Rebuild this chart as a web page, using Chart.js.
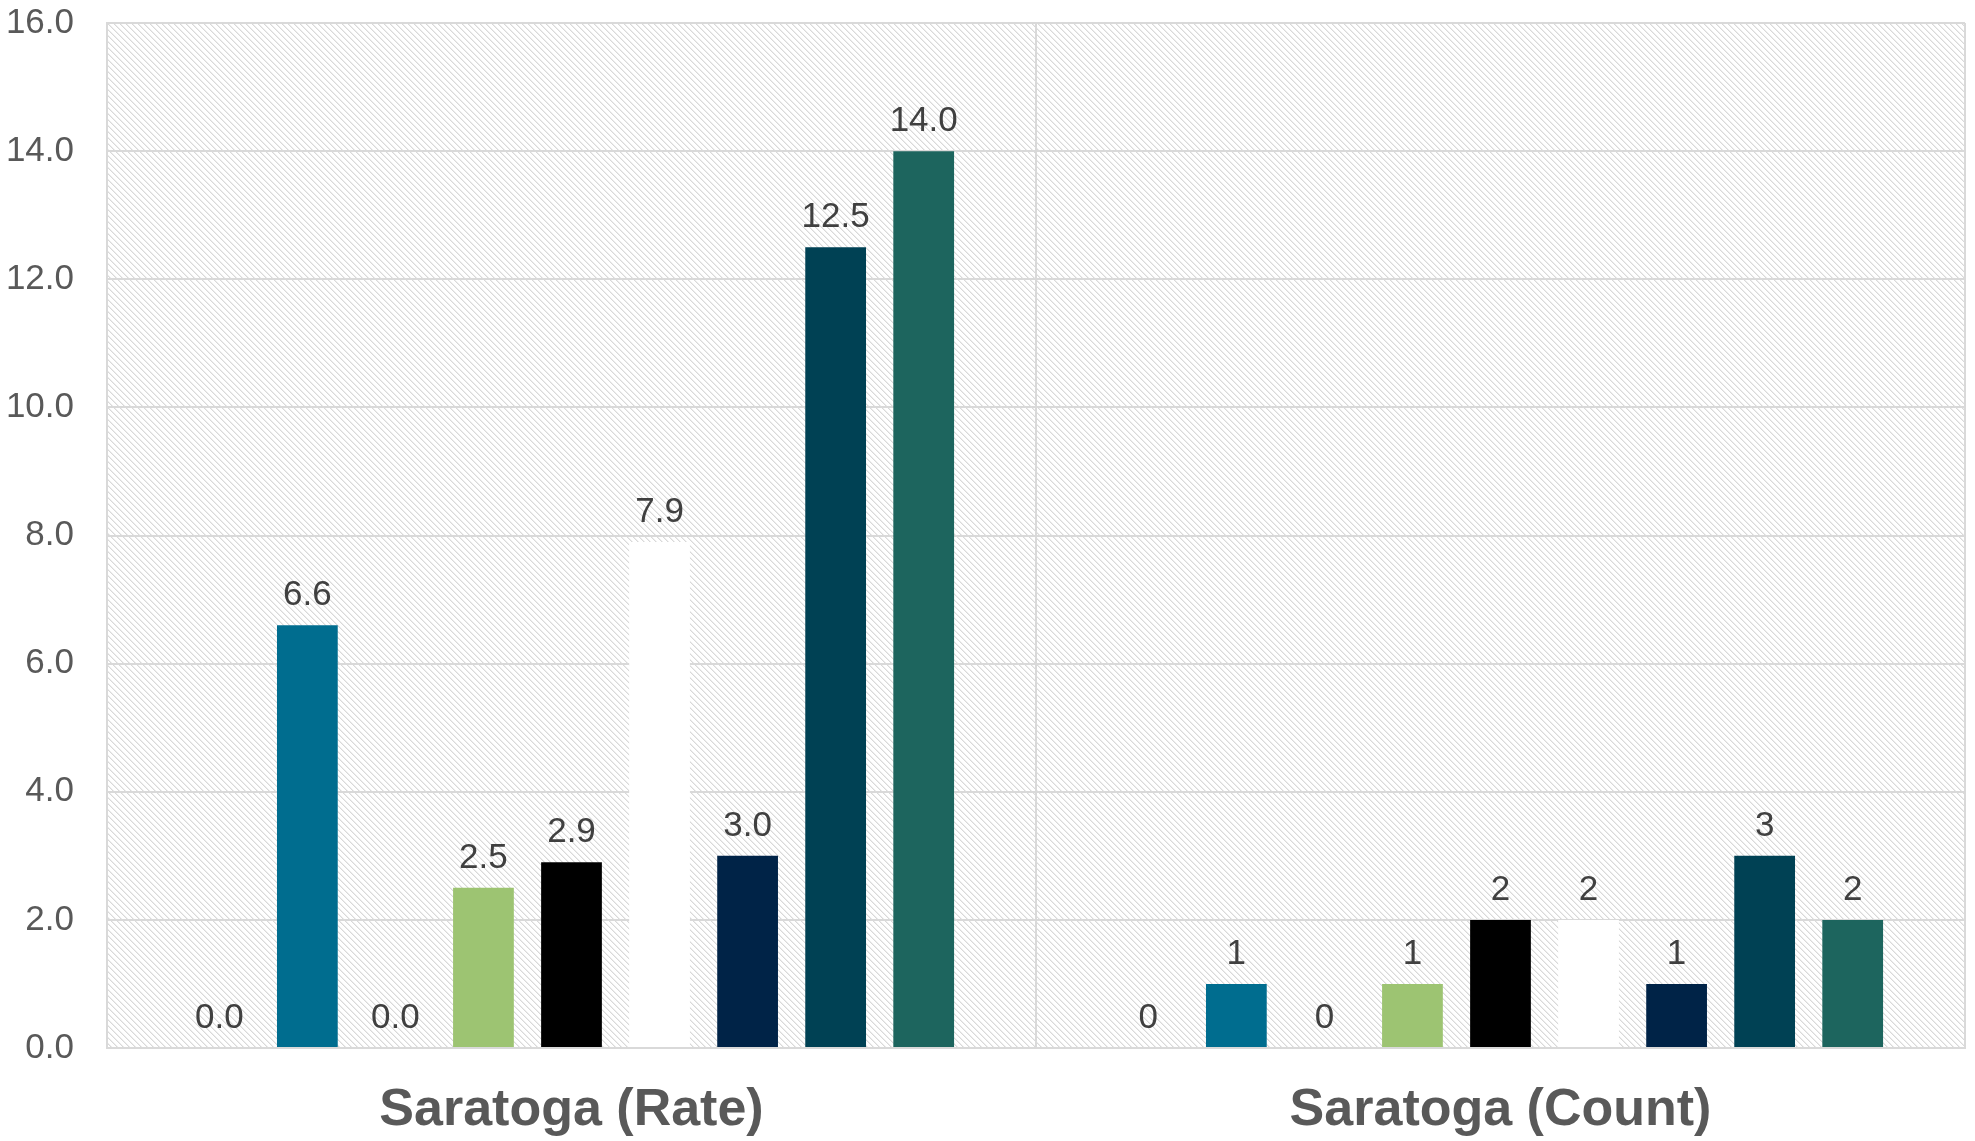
<!DOCTYPE html>
<html>
<head>
<meta charset="utf-8">
<script src="https://cdn.jsdelivr.net/npm/chart.js@4/dist/chart.umd.min.js"></script>
<style>
  html, body { margin: 0; padding: 0; background: #ffffff; }
  #wrap { width: 1975px; height: 1141px; }
</style>
</head>
<body>
<div id="wrap"><canvas id="saratogaChart"></canvas></div>
<script>
// categories on the x axis
var categories = ["Saratoga (Rate)", "Saratoga (Count)"];

// one value per category for each series (rate, count)
var series1 = [0.0, 0];
var series2 = [6.6, 1];
var series3 = [0.0, 0];
var series4 = [2.5, 1];
var series5 = [2.9, 2];
var series6 = [7.9, 2];
var series7 = [3.0, 1];
var series8 = [12.5, 3];
var series9 = [14.0, 2];

// y axis ticks
var yTicks = [0, 2, 4, 6, 8, 10, 12, 14, 16];

var seriesList = [series1, series2, series3, series4, series5, series6, series7, series8, series9];
var seriesNames = ["Series 1", "Series 2", "Series 3", "Series 4", "Series 5", "Series 6", "Series 7", "Series 8", "Series 9"];
var seriesColors = ["#7f7f7f", "#006d8f", "#4d4d4d", "#9dc472", "#000000", "#ffffff", "#002347", "#004154", "#1d655e"];

// diagonal hatch for the plot background
function makeHatch() {
  var n = 6;
  var c = document.createElement("canvas");
  c.width = n;
  c.height = n;
  var g = c.getContext("2d");
  g.fillStyle = "#ffffff";
  g.fillRect(0, 0, n, n);
  for (var i = 0; i < n; i++) {
    g.fillStyle = "#d9d9d9";
    g.fillRect(i, i, 1, 1);
    g.fillStyle = "#ededed";
    g.fillRect((i + 1) % n, i, 1, 1);
  }
  return g.createPattern(c, "repeat");
}

var hatchBackground = {
  id: "hatchBackground",
  beforeDraw: function (chart) {
    var ctx = chart.ctx;
    var a = chart.chartArea;
    ctx.save();
    ctx.fillStyle = makeHatch();
    ctx.fillRect(a.left, a.top, a.right - a.left, a.bottom - a.top);
    ctx.restore();
  },
};

// value labels above each bar
var valueLabels = {
  id: "valueLabels",
  afterDatasetsDraw: function (chart) {
    var ctx = chart.ctx;
    ctx.save();
    ctx.font = "35px 'Liberation Sans', Arial, sans-serif";
    ctx.fillStyle = "#404040";
    ctx.textAlign = "center";
    ctx.textBaseline = "alphabetic";
    chart.data.datasets.forEach(function (ds, di) {
      var meta = chart.getDatasetMeta(di);
      meta.data.forEach(function (bar, i) {
        var v = ds.data[i];
        var txt = i === 0 ? v.toFixed(1) : String(Math.round(v));
        ctx.fillText(txt, bar.x, bar.y - 20);
      });
    });
    ctx.restore();
  },
};

var datasets = seriesList.map(function (vals, i) {
  return {
    label: seriesNames[i],
    data: vals,
    backgroundColor: seriesColors[i],
    borderWidth: 0,
    categoryPercentage: 0.853,
    barPercentage: 0.69,
  };
});

new Chart(document.getElementById("saratogaChart"), {
  type: "bar",
  data: {
    labels: categories,
    datasets: datasets,
  },
  plugins: [hatchBackground, valueLabels],
  options: {
    responsive: true,
    maintainAspectRatio: false,
    animation: false,
    layout: {
      padding: { top: 23, right: 10, left: 0, bottom: 0 },
    },
    plugins: {
      legend: { display: false },
      tooltip: { enabled: false },
    },
    scales: {
      x: {
        grid: {
          color: "#d9d9d9",
          lineWidth: 2,
          drawTicks: false,
        },
        border: { color: "#d9d9d9", width: 2 },
        ticks: {
          color: "#595959",
          padding: 31,
          font: { family: "'Liberation Sans', Arial, sans-serif", size: 52, weight: "bold" },
        },
        afterFit: function (scale) {
          scale.height = 93;
          scale.paddingLeft = 0;
          scale.paddingRight = 0;
        },
      },
      y: {
        min: 0,
        max: 16,
        afterBuildTicks: function (scale) {
          scale.ticks = yTicks.map(function (v) { return { value: v }; });
        },
        grid: {
          color: "#d9d9d9",
          lineWidth: 2,
          drawTicks: false,
        },
        border: { color: "#d9d9d9", width: 2 },
        ticks: {
          color: "#595959",
          padding: 33,
          font: { family: "'Liberation Sans', Arial, sans-serif", size: 35 },
          callback: function (v) { return Number(v).toFixed(1); },
        },
        afterFit: function (scale) {
          scale.width = 107;
          scale.paddingTop = 0;
          scale.paddingBottom = 0;
        },
      },
    },
  },
});
</script>
</body>
</html>
